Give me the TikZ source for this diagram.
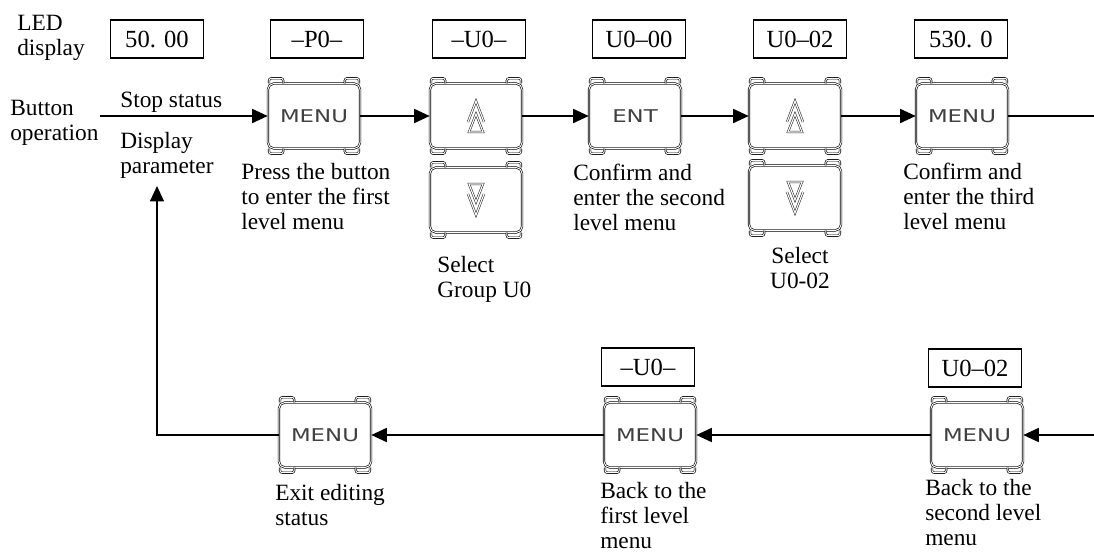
\documentclass[tikz,border=0pt]{standalone}
\usepackage{fontspec}
\setmainfont{Liberation Serif}
\newfontfamily\keyfont{DejaVu Sans}
\usepackage{graphicx}
\usetikzlibrary{arrows.meta}

\tikzset{
    txt/.style = {anchor = north west, align = left, inner sep = 0pt, font = \fontsize{16.6}{17.8}\selectfont},
    led/.style = {draw, line width = 0.8pt, minimum width = 2.325cm, minimum height = 0.95cm, inner sep = 0pt, font = \fontsize{17.5}{18}\selectfont},
    keybtn/.style = {draw, double, double distance = 0.7pt, line width = 0.45pt, rounded corners = 4pt, minimum width = 2.3cm, minimum height = 1.62cm, inner sep = 0pt, font = \keyfont\fontsize{12.5}{13}\selectfont\color{black!75}},
    glyph/.style = {line width = 0.4pt, double = white, double distance = 0.8pt, sharp corners, black!85},
    earline/.style = {double, double distance = 0.7pt, line width = 0.45pt, rounded corners = 1.5pt},
    upkey/.style = {keybtn, path picture = {
        \draw[glyph, shift = {(path picture bounding box.center)}] (-8, 6) -- (0, -15) -- (8, 6);
        \draw[glyph, shift = {(path picture bounding box.center)}] (-7, 16) -- (0, -2) -- (7, 16) -- cycle;}},
    downkey/.style = {keybtn, path picture = {
        \draw[glyph, shift = {(path picture bounding box.center)}] (-8, -6) -- (0, 15) -- (8, -6);
        \draw[glyph, shift = {(path picture bounding box.center)}] (-7, -16) -- (0, 2) -- (7, -16) -- cycle;}},
    arr/.style = {line width = 1pt, -{Triangle[length = 11pt, width = 10pt]}},
    lin/.style = {line width = 1pt}
}

% Ecken der Tasten
\newcommand{\keyears}[1]{%
    \draw[earline] ([xshift = 1pt]#1.north west) -- ++(0pt, 3.5pt) -- ++(10pt, 0pt) -- ++(0pt, -3.5pt);
    \draw[earline] ([xshift = -1pt]#1.north east) -- ++(0pt, 3.5pt) -- ++(-10pt, 0pt) -- ++(0pt, -3.5pt);
    \draw[earline] ([xshift = 1pt]#1.south west) -- ++(0pt, -3.5pt) -- ++(10pt, 0pt) -- ++(0pt, 3.5pt);
    \draw[earline] ([xshift = -1pt]#1.south east) -- ++(0pt, -3.5pt) -- ++(-10pt, 0pt) -- ++(0pt, 3.5pt);
}
\newcommand{\menutext}{\scalebox{1.3}[1]{MENU}}

\begin{document}
\begin{tikzpicture}[x = 0.025cm, y = -0.025cm]
        % Rahmen
            \useasboundingbox (0, 0) rectangle (1094, 554);

        % Beschriftung links
            \node[txt] (ledlbl) at (17, 15) {LED\\display};
            \node[txt] (btnlbl) at (10, 100) {Button\\operation};
            \node[txt] (stoplbl) at (120, 92) {Stop status};
            \node[txt] (displbl) at (120, 132) {Display\\parameter};

        % LED-Anzeigen oben
            \node[led] (ledA) at (157, 39) {50. 00};
            \node[led] (ledB) at (317, 39) {\textendash P0\textendash};
            \node[led] (ledC) at (479, 39) {\textendash U0\textendash};
            \node[led] (ledD) at (639, 39) {U0\textendash 00};
            \node[led] (ledE) at (800, 39) {U0\textendash 02};
            \node[led] (ledF) at (961, 39) {530. 0};

        % LED-Anzeigen unten
            \node[led] (ledG) at (648, 367) {\textendash U0\textendash};
            \node[led] (ledH) at (975, 368) {U0\textendash 02};

        % Tasten oben
            \node[keybtn] (menuA) at (314, 116) {\menutext};
            \node[upkey] (upA) at (476, 116) {};
            \node[downkey] (downA) at (476, 200) {};
            \node[keybtn] (entK) at (635, 116) {\scalebox{1.3}[1]{ENT}};
            \node[upkey] (upB) at (795, 116) {};
            \node[downkey] (downB) at (795, 198) {};
            \node[keybtn] (menuB) at (962, 116) {\menutext};

        % Tasten unten
            \node[keybtn] (exitK) at (325, 435) {\menutext};
            \node[keybtn] (backA) at (650, 435) {\menutext};
            \node[keybtn] (backB) at (977, 435) {\menutext};

            \keyears{menuA} \keyears{upA} \keyears{downA} \keyears{entK}
            \keyears{upB} \keyears{downB} \keyears{menuB}
            \keyears{exitK} \keyears{backA} \keyears{backB}

        % Texte
            \node[txt] (pressT) at (241, 163) {Press the button\\to enter the first\\level menu};
            \node[txt] (selAT) at (437, 256) {Select\\Group U0};
            \node[txt] (confAT) at (573, 164) {Confirm and\\enter the second\\level menu};
            \node[txt, anchor = north, align = center] (selBT) at (800, 247) {Select\\U0-02};
            \node[txt] (confBT) at (903, 163) {Confirm and\\enter the third\\level menu};
            \node[txt] (exitT) at (275, 484) {Exit editing\\status};
            \node[txt] (backAT) at (600, 482) {Back to the\\first level\\menu};
            \node[txt] (backBT) at (925, 479) {Back to the\\second level\\menu};

        % Pfeile
            \coordinate (start) at (100, 116);
            \coordinate (rout) at (1094, 116);
            \coordinate (rin) at (1094, 435);
            \coordinate (ret) at (157, 186);
            \draw[arr] (start) -- (menuA);
            \draw[arr] (menuA) -- (upA);
            \draw[arr] (upA) -- (entK);
            \draw[arr] (entK) -- (upB);
            \draw[arr] (upB) -- (menuB);
            \draw[lin] (menuB) -- (rout);
            \draw[arr] (rin) -- (backB);
            \draw[arr] (backB) -- (backA);
            \draw[arr] (backA) -- (exitK);
            \draw[arr] (exitK) -| (ret);
\end{tikzpicture}
\end{document}
